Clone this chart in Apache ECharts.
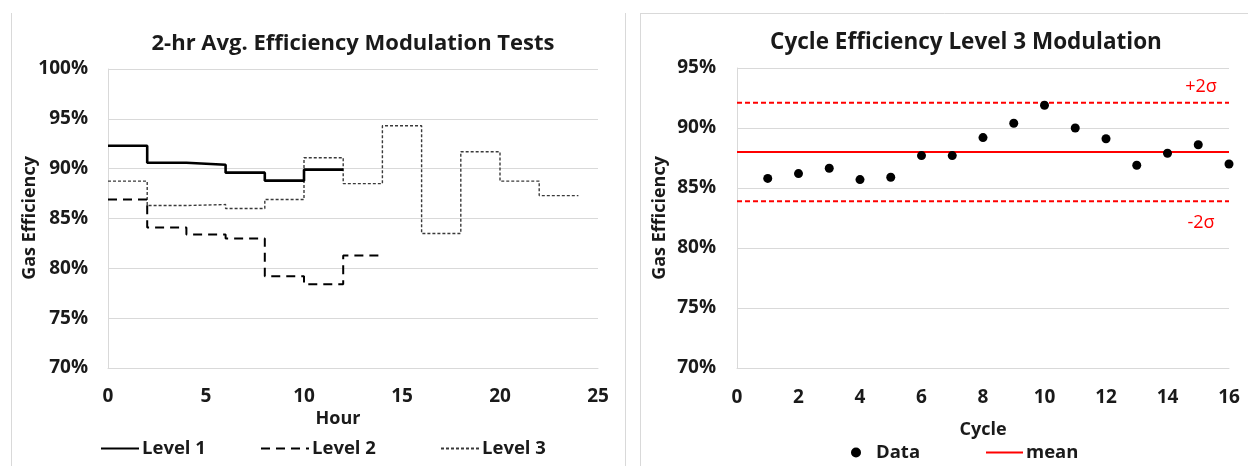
<!DOCTYPE html>
<html>
<head>
<meta charset="utf-8">
<script src="https://cdn.jsdelivr.net/npm/echarts@6/dist/echarts.min.js"></script>
<style>
  html, body { margin: 0; padding: 0; background: #fff; }
  #chart { width: 1248px; height: 466px; }
</style>
</head>
<body>
<div id="chart"></div>
<script>
// Left panel: 2-hour averaged efficiency per modulation level (step plot)
const hourMarks = [0, 2, 4, 6, 8, 10, 12, 14, 16, 18, 20, 22, 24];
const level1 = [92.3, 90.6, 90.4, 89.6, 88.8, 89.9];
const level2 = [86.9, 84.1, 83.4, 83.0, 79.2, 78.4, 81.3];
const level3 = [88.75, 86.3, 86.4, 86.0, 86.9, 91.1, 88.5, 94.3, 83.5, 91.7, 88.75, 87.3];

// Right panel: per-cycle efficiency for level 3 with control limits
const cycles = [1, 2, 3, 4, 5, 6, 7, 8, 9, 10, 11, 12, 13, 14, 15, 16];
const cycleEff = [85.8, 86.2, 86.65, 85.7, 85.9, 87.7, 87.7, 89.2, 90.4, 91.9, 90.0, 89.1, 86.9, 87.9, 88.6, 87.0];
const meanEff = 88.0;
const upper2Sigma = 92.1;
const lower2Sigma = 83.9;
const cycleRange = [0, 16];

const FONT = '"Open Sans", "Liberation Sans", sans-serif';
const GRID_GRAY = '#d9d9d9';
const TEXT = '#1a1a1a';

// each value holds for one 2-hour block; repeat the last value at the block end
function stepPoints(values) {
  const pts = values.map((v, i) => [hourMarks[i], v]);
  pts.push([hourMarks[values.length], values[values.length - 1]]);
  return pts;
}
function flatLine(v) {
  return cycleRange.map(c => [c, v]);
}

const tickLabel = {
  color: TEXT, fontFamily: FONT, fontWeight: 'bold', fontSize: 19
};
const legendText = {
  color: TEXT, fontFamily: FONT, fontWeight: 'bold', fontSize: 18.5, padding: [0, 0, 0, -2]
};
// line-only legend entries: hide the marker that line series add to the icon
function lineLegend(name, left, width, top) {
  return {
    data: [name], left: left, top: top, padding: 0,
    itemWidth: width, itemHeight: 14, itemGap: 4,
    itemStyle: { opacity: 0 },
    textStyle: legendText
  };
}

const chart = echarts.init(document.getElementById('chart'), null, { renderer: 'canvas' });

chart.setOption({
  backgroundColor: '#ffffff',
  animation: false,
  grid: [
    { left: 108, top: 69, width: 490, height: 299 },
    { left: 737, top: 68, width: 492, height: 300 }
  ],
  xAxis: [
    {
      gridIndex: 0, type: 'value', min: 0, max: 25, interval: 5,
      axisLine: { show: true, lineStyle: { color: GRID_GRAY } },
      axisTick: { show: false },
      splitLine: { show: false },
      axisLabel: Object.assign({ margin: 19 }, tickLabel)
    },
    {
      gridIndex: 1, type: 'value', min: 0, max: 16, interval: 2,
      axisLine: { show: true, lineStyle: { color: GRID_GRAY } },
      axisTick: { show: false },
      splitLine: { show: false },
      axisLabel: Object.assign({ margin: 20 }, tickLabel)
    }
  ],
  yAxis: [
    {
      gridIndex: 0, type: 'value', min: 70, max: 100, interval: 5,
      axisLine: { show: true, lineStyle: { color: GRID_GRAY } },
      axisTick: { show: false },
      splitLine: { show: true, lineStyle: { color: GRID_GRAY, width: 1 } },
      axisLabel: Object.assign({ margin: 20, formatter: v => v + '%' }, tickLabel)
    },
    {
      gridIndex: 1, type: 'value', min: 70, max: 95, interval: 5,
      axisLine: { show: true, lineStyle: { color: GRID_GRAY } },
      axisTick: { show: false },
      splitLine: { show: true, lineStyle: { color: GRID_GRAY, width: 1 } },
      axisLabel: Object.assign({ margin: 21, formatter: v => v + '%' }, tickLabel)
    }
  ],
  legend: [
    lineLegend('Level 1', 100, 38, 439),
    lineLegend('Level 2', 260, 48, 439),
    lineLegend('Level 3', 440, 38, 439),
    {
      data: ['Data'], left: 851, top: 443, padding: 0, itemWidth: 10, itemHeight: 10, itemGap: 4,
      textStyle: { color: TEXT, fontFamily: FONT, fontWeight: 'bold', fontSize: 18.5, padding: [0, 0, 0, 10] }
    },
    lineLegend('mean', 985, 37, 443)
  ],
  series: [
    {
      name: 'Level 1', type: 'line', step: 'end', xAxisIndex: 0, yAxisIndex: 0,
      data: stepPoints(level1), symbol: 'none', z: 5,
      lineStyle: { color: '#000000', width: 2.6, type: 'solid' },
      itemStyle: { color: '#000000' }
    },
    {
      name: 'Level 2', type: 'line', step: 'end', xAxisIndex: 0, yAxisIndex: 0,
      data: stepPoints(level2), symbol: 'none', z: 4,
      lineStyle: { color: '#000000', width: 2, type: [9, 6] },
      itemStyle: { color: '#000000' }
    },
    {
      name: 'Level 3', type: 'line', step: 'end', xAxisIndex: 0, yAxisIndex: 0,
      data: stepPoints(level3), symbol: 'none', z: 3,
      lineStyle: { color: '#3a3a3a', width: 1.4, type: [3, 2] },
      itemStyle: { color: '#3a3a3a' }
    },
    {
      name: 'Data', type: 'scatter', xAxisIndex: 1, yAxisIndex: 1,
      data: cycles.map((c, i) => [c, cycleEff[i]]),
      symbol: 'circle', symbolSize: 9, z: 6,
      itemStyle: { color: '#000000', opacity: 1 }
    },
    {
      name: 'mean', type: 'line', xAxisIndex: 1, yAxisIndex: 1,
      data: flatLine(meanEff), symbol: 'none', z: 4,
      lineStyle: { color: '#ff0000', width: 2 },
      itemStyle: { color: '#ff0000' }
    },
    {
      name: '+2σ', type: 'line', xAxisIndex: 1, yAxisIndex: 1,
      data: flatLine(upper2Sigma), symbol: 'none', z: 4,
      lineStyle: { color: '#ff0000', width: 2, type: [5, 3] }
    },
    {
      name: '-2σ', type: 'line', xAxisIndex: 1, yAxisIndex: 1,
      data: flatLine(lower2Sigma), symbol: 'none', z: 4,
      lineStyle: { color: '#ff0000', width: 2, type: [5, 3] }
    }
  ],
  graphic: [
    // panel frames
    { type: 'line', shape: { x1: 11.5, y1: 13, x2: 11.5, y2: 466 }, style: { stroke: GRID_GRAY, lineWidth: 1 }, silent: true },
    { type: 'line', shape: { x1: 625.5, y1: 13, x2: 625.5, y2: 466 }, style: { stroke: GRID_GRAY, lineWidth: 1 }, silent: true },
    { type: 'line', shape: { x1: 640.5, y1: 13, x2: 640.5, y2: 466 }, style: { stroke: GRID_GRAY, lineWidth: 1 }, silent: true },
    { type: 'line', shape: { x1: 640.5, y1: 13.5, x2: 1248, y2: 13.5 }, style: { stroke: GRID_GRAY, lineWidth: 1 }, silent: true },
    // titles
    { type: 'text', x: 353, y: 44, silent: true,
      style: { text: '2-hr Avg. Efficiency Modulation Tests', font: 'bold 22px ' + FONT, fill: TEXT, align: 'center', verticalAlign: 'middle' } },
    { type: 'text', x: 966, y: 43, silent: true,
      style: { text: 'Cycle Efficiency Level 3 Modulation', font: 'bold 22.5px ' + FONT, fill: TEXT, align: 'center', verticalAlign: 'middle' } },
    // axis titles
    { type: 'text', x: 338, y: 419, silent: true,
      style: { text: 'Hour', font: 'bold 18px ' + FONT, fill: TEXT, align: 'center', verticalAlign: 'middle' } },
    { type: 'text', x: 983, y: 430, silent: true,
      style: { text: 'Cycle', font: 'bold 18px ' + FONT, fill: TEXT, align: 'center', verticalAlign: 'middle' } },
    { type: 'text', x: 30, y: 218, rotation: Math.PI / 2, silent: true,
      style: { text: 'Gas Efficiency', font: 'bold 18px ' + FONT, fill: TEXT, align: 'center', verticalAlign: 'middle' } },
    { type: 'text', x: 660, y: 218, rotation: Math.PI / 2, silent: true,
      style: { text: 'Gas Efficiency', font: 'bold 18px ' + FONT, fill: TEXT, align: 'center', verticalAlign: 'middle' } },
    // control-limit labels
    { type: 'text', x: 1201, y: 87, silent: true,
      style: { text: '+2σ', font: '18px ' + FONT, fill: '#ff0000', align: 'center', verticalAlign: 'middle' } },
    { type: 'text', x: 1201, y: 223, silent: true,
      style: { text: '-2σ', font: '18px ' + FONT, fill: '#ff0000', align: 'center', verticalAlign: 'middle' } }
  ]
});
</script>
</body>
</html>
